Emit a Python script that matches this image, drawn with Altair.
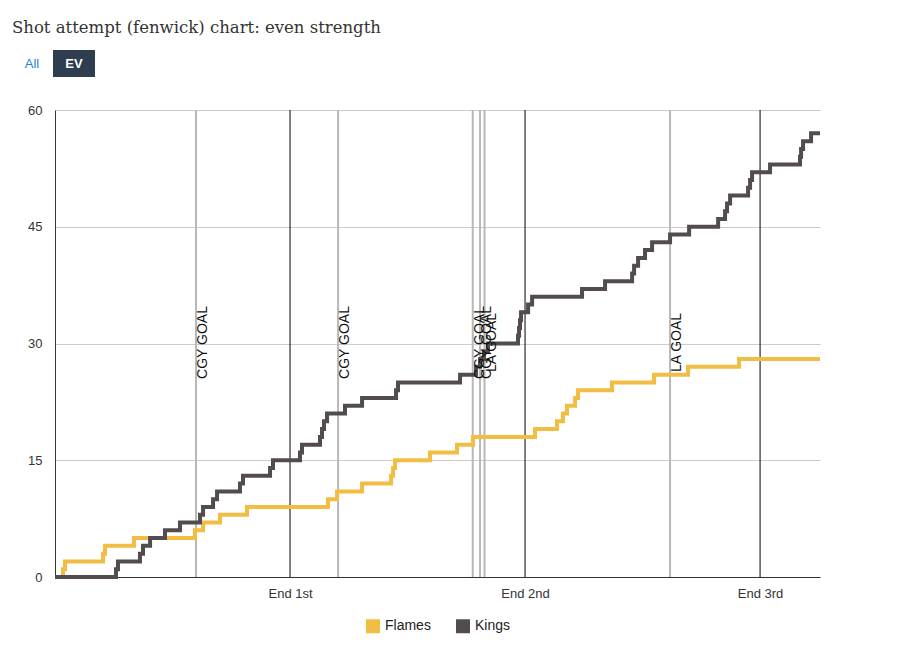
import altair as alt
import pandas as pd

# ---- data ----
teams = ["Flames", "Kings"]
team_colors = ["#F2BD43", "#524C4E"]

flames_times = [0.68, 0.85, 4.09, 4.26, 6.72, 11.91, 12.60, 14.04, 16.34, 23.23,
                24.00, 26.13, 28.60, 28.77, 28.94, 31.91, 34.21, 35.57, 40.85, 42.72,
                43.23, 43.57, 44.26, 44.51, 47.40, 50.98, 53.87, 58.21]
kings_times = [5.19, 5.36, 7.23, 7.49, 8.09, 9.36, 10.64, 12.34, 12.60, 13.45,
               13.79, 15.74, 16.00, 18.30, 18.55, 20.85, 21.02, 22.55, 22.72, 22.89,
               23.15, 24.68, 26.13, 29.02, 29.19, 34.47, 35.83, 36.17, 36.51, 36.85,
               39.40, 39.49, 39.57, 39.66, 40.26, 40.60, 44.85, 46.81, 49.11, 49.28,
               49.62, 50.21, 50.81, 52.34, 53.96, 56.43, 57.02, 57.19, 57.45, 58.98,
               59.15, 59.32, 60.85, 63.40, 63.49, 63.66, 64.34]
game_end = 65.1

period_ends = [20, 40, 60]
period_labels = ["End 1st", "End 2nd", "End 3rd"]

goal_times = [12.0, 24.09, 35.55, 36.17, 36.55, 52.34]
goal_labels = ["CGY GOAL", "CGY GOAL", "CGY GOAL", "CGY GOAL", "LA GOAL", "LA GOAL"]

y_ticks = [0, 15, 30, 45, 60]
title_text = "Shot attempt (fenwick) chart: even strength"

# ---- tables ----
rows = []
for team, times in zip(teams, [flames_times, kings_times]):
    rows.append({"team": team, "t": 0.0, "n": 0})
    for i, t in enumerate(times):
        rows.append({"team": team, "t": t, "n": i + 1})
    rows.append({"team": team, "t": game_end, "n": len(times)})
line_df = pd.DataFrame(rows)
period_df = pd.DataFrame({"t": period_ends, "label": period_labels})
goal_df = pd.DataFrame({"t": goal_times, "label": goal_labels})
one = pd.DataFrame({"k": [0]})

label_expr = " : ".join(
    [f"datum.value == {v} ? '{l}'" for v, l in zip(period_ends, period_labels)]
) + " : ''"

FONT = "Liberation Sans"

X = alt.X(
    "t:Q",
    scale=alt.Scale(domain=[0, game_end], nice=False, zero=True),
    axis=alt.Axis(values=period_ends, labelExpr=label_expr, grid=False, ticks=False,
                  title=None, domainColor="#333333", labelFont=FONT, labelFontSize=13,
                  labelColor="#333333", labelPadding=10),
)
Y = alt.Y(
    "n:Q",
    scale=alt.Scale(domain=[0, 60], nice=False),
    axis=alt.Axis(values=y_ticks, grid=True, gridColor="#cccccc", ticks=False,
                  title=None, domainColor="#333333", labelFont=FONT, labelFontSize=13,
                  labelColor="#333333", labelPadding=13),
)

goal_rules = alt.Chart(goal_df).mark_rule(color="#b8b8b8", strokeWidth=2).encode(x=X)
period_rules = alt.Chart(period_df).mark_rule(color="#000000", strokeWidth=1).encode(x=X)

lines = alt.Chart(line_df).mark_line(
    interpolate="step-after", strokeWidth=4, strokeJoin="miter", strokeCap="butt"
).encode(
    x=X,
    y=Y,
    color=alt.Color(
        "team:N",
        scale=alt.Scale(domain=teams, range=team_colors),
        legend=alt.Legend(
            title=None, orient="none", legendX=311, legendY=509,
            direction="horizontal", symbolType="square", symbolSize=49,
            symbolStrokeWidth=7,
            labelFont=FONT, labelFontSize=14, labelColor="#222222",
            columnPadding=14, labelOffset=5,
        ),
    ),
)

goal_text = alt.Chart(goal_df).mark_text(
    angle=270, align="center", baseline="top", font=FONT, fontSize=14, color="#111111", dx=1
).encode(x=X, y=alt.datum(30), text="label:N")

title_mark = alt.Chart(one).mark_text(
    text=title_text, font="DejaVu Serif", fontSize=16.5, color="#333333",
    align="left", baseline="alphabetic"
).encode(x=alt.value(-43), y=alt.value(-77))
btn_rect = alt.Chart(one).mark_rect(color="#2E3D50").encode(
    x=alt.value(-2), x2=alt.value(40), y=alt.value(-60), y2=alt.value(-33)
)
btn_ev = alt.Chart(one).mark_text(
    text="EV", font=FONT, fontSize=13, fontWeight="bold", color="#ffffff",
    align="center", baseline="middle"
).encode(x=alt.value(19), y=alt.value(-46))
btn_all = alt.Chart(one).mark_text(
    text="All", font=FONT, fontSize=13, color="#1F7FCF", align="center", baseline="middle"
).encode(x=alt.value(-23), y=alt.value(-46))

chart = alt.layer(
    goal_rules, period_rules, lines, goal_text, title_mark, btn_rect, btn_ev, btn_all
).properties(
    width=765,
    height=467,
    padding={"left": 47, "top": 102, "right": 80, "bottom": 60},
    autosize=alt.AutoSizeParams(type="none"),
).configure_view(stroke=None)

chart.save("out.html", embed_options={"renderer": "svg", "actions": False})
